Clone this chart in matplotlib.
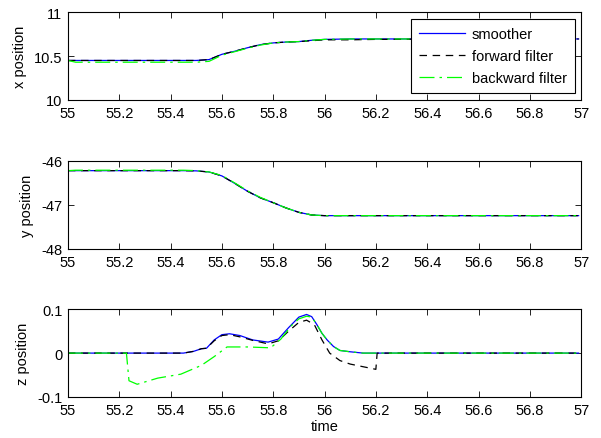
import matplotlib
matplotlib.use("Agg")
import matplotlib.pyplot as plt

plt.rcParams["font.family"] = ["Liberation Sans", "DejaVu Sans"]
plt.rcParams["font.size"] = 10.5

# ---- data ----
t_xy = [55, 55.03, 55.45, 55.5, 55.55, 55.6, 55.65, 55.7, 55.75, 55.8, 55.85,
        55.9, 55.95, 56.0, 56.1, 56.2, 56.5, 56.99]

x_smooth = [10.45, 10.45, 10.45, 10.45, 10.46, 10.52, 10.555, 10.595, 10.63, 10.65,
            10.66, 10.665, 10.68, 10.69, 10.695, 10.695, 10.695, 10.695]
x_fwd = [10.45, 10.45, 10.45, 10.45, 10.46, 10.52, 10.555, 10.595, 10.63, 10.65,
         10.66, 10.665, 10.675, 10.685, 10.685, 10.69, 10.695, 10.695]
x_bwd = [10.45, 10.43, 10.43, 10.43, 10.44, 10.51, 10.55, 10.59, 10.625, 10.65,
         10.66, 10.665, 10.68, 10.69, 10.695, 10.695, 10.695, 10.695]

y_smooth = [-46.22, -46.22, -46.22, -46.225, -46.25, -46.34, -46.51, -46.69, -46.84,
            -46.95, -47.07, -47.17, -47.23, -47.245, -47.245, -47.245, -47.245, -47.245]
y_fwd = [-46.22, -46.22, -46.22, -46.225, -46.25, -46.34, -46.51, -46.69, -46.84,
         -46.95, -47.07, -47.17, -47.23, -47.245, -47.245, -47.245, -47.245, -47.245]
y_bwd = [-46.22, -46.21, -46.21, -46.22, -46.25, -46.33, -46.50, -46.68, -46.83,
         -46.95, -47.07, -47.17, -47.23, -47.245, -47.245, -47.245, -47.245, -47.245]

t_z_smooth = [55, 55.45, 55.49, 55.52, 55.54, 55.57, 55.6, 55.63, 55.67, 55.72, 55.78,
              55.82, 55.86, 55.9, 55.93, 55.95, 55.97, 55.99, 56.01, 56.035, 56.06,
              56.1, 56.15, 56.99]
z_smooth = [0, 0, 0.004, 0.01, 0.011, 0.03, 0.042, 0.044, 0.04, 0.03, 0.025,
            0.032, 0.058, 0.082, 0.088, 0.083, 0.065, 0.045, 0.03, 0.015, 0.006,
            0.003, 0, 0]

t_z_fwd = [55, 55.45, 55.49, 55.52, 55.54, 55.57, 55.6, 55.63, 55.67, 55.72, 55.78,
           55.82, 55.86, 55.9, 55.93, 55.96, 55.99, 56.02, 56.06, 56.1, 56.15,
           56.2, 56.205, 56.99]
z_fwd = [0, 0, 0.004, 0.01, 0.011, 0.028, 0.04, 0.042, 0.037, 0.029, 0.021,
         0.028, 0.05, 0.07, 0.075, 0.065, 0.03, 0.0, -0.017, -0.025, -0.031,
         -0.037, 0, 0]

t_z_bwd = [55, 55.228, 55.238, 55.27, 55.35, 55.44, 55.52, 55.57, 55.62, 55.7, 55.79,
           55.83, 55.87, 55.9, 55.93, 55.95, 55.97, 55.99, 56.01, 56.035, 56.06,
           56.1, 56.15, 56.99]
z_bwd = [0, 0, -0.063, -0.071, -0.057, -0.048, -0.028, -0.008, 0.014, 0.014, 0.012,
         0.032, 0.062, 0.078, 0.084, 0.082, 0.065, 0.045, 0.03, 0.015, 0.006,
         0.003, 0, 0]

xticks = [55, 55.2, 55.4, 55.6, 55.8, 56, 56.2, 56.4, 56.6, 56.8, 57]
xtick_labels = ["55", "55.2", "55.4", "55.6", "55.8", "56", "56.2", "56.4", "56.6", "56.8", "57"]

FWD_LS = (0, (6, 4.5))
BWD_LS = (0, (12, 4, 2, 4))


def style(ax, ylim, yticks, ylabels, ylabel):
    ax.set_xlim(55, 57)
    ax.set_ylim(*ylim)
    ax.set_xticks(xticks)
    ax.set_xticklabels(xtick_labels)
    ax.set_yticks(yticks)
    ax.set_yticklabels(ylabels)
    ax.set_ylabel(ylabel, labelpad=5)
    ax.tick_params(direction="in", top=True, right=True, length=4, width=0.6, pad=4.5)
    ax.tick_params(axis="y", pad=4)
    for s in ax.spines.values():
        s.set_linewidth(0.8)


fig = plt.figure(figsize=(6.01, 4.39), dpi=100)
L, W, H = 0.113, 0.854, 0.2
ax1 = fig.add_axes([L, 0.770, W, H])
ax2 = fig.add_axes([L, 0.431, W, H])
ax3 = fig.add_axes([L, 0.0934, W, H])

ax1.plot(t_xy, x_smooth, color="#0000ff", lw=0.9, label="smoother")
ax1.plot(t_xy, x_fwd, color="black", lw=0.9, ls=FWD_LS, label="forward filter")
ax1.plot(t_xy, x_bwd, color="#00ff00", lw=0.9, ls=BWD_LS, label="backward filter")
style(ax1, (10, 11), [10, 10.5, 11], ["10", "10.5", "11"], "x position")
ax1.legend(loc="upper right", fancybox=False, edgecolor="black", framealpha=1,
           handlelength=3.15, handletextpad=0.48, labelspacing=0.55,
           borderpad=0.55, borderaxespad=0.45).get_frame().set_linewidth(0.8)

ax2.plot(t_xy, y_smooth, color="#0000ff", lw=0.9)
ax2.plot(t_xy, y_fwd, color="black", lw=0.9, ls=FWD_LS)
ax2.plot(t_xy, y_bwd, color="#00ff00", lw=0.9, ls=BWD_LS)
style(ax2, (-48, -46), [-48, -47, -46], ["-48", "-47", "-46"], "y position")

ax3.plot(t_z_smooth, z_smooth, color="#0000ff", lw=0.9)
ax3.plot(t_z_fwd, z_fwd, color="black", lw=0.9, ls=FWD_LS)
ax3.plot(t_z_bwd, z_bwd, color="#00ff00", lw=0.9, ls=BWD_LS)
style(ax3, (-0.1, 0.1), [-0.1, 0, 0.1], ["-0.1", "0", "0.1"], "z position")
ax3.set_xlabel("time", labelpad=1)

fig.savefig("out.png", dpi=100)
